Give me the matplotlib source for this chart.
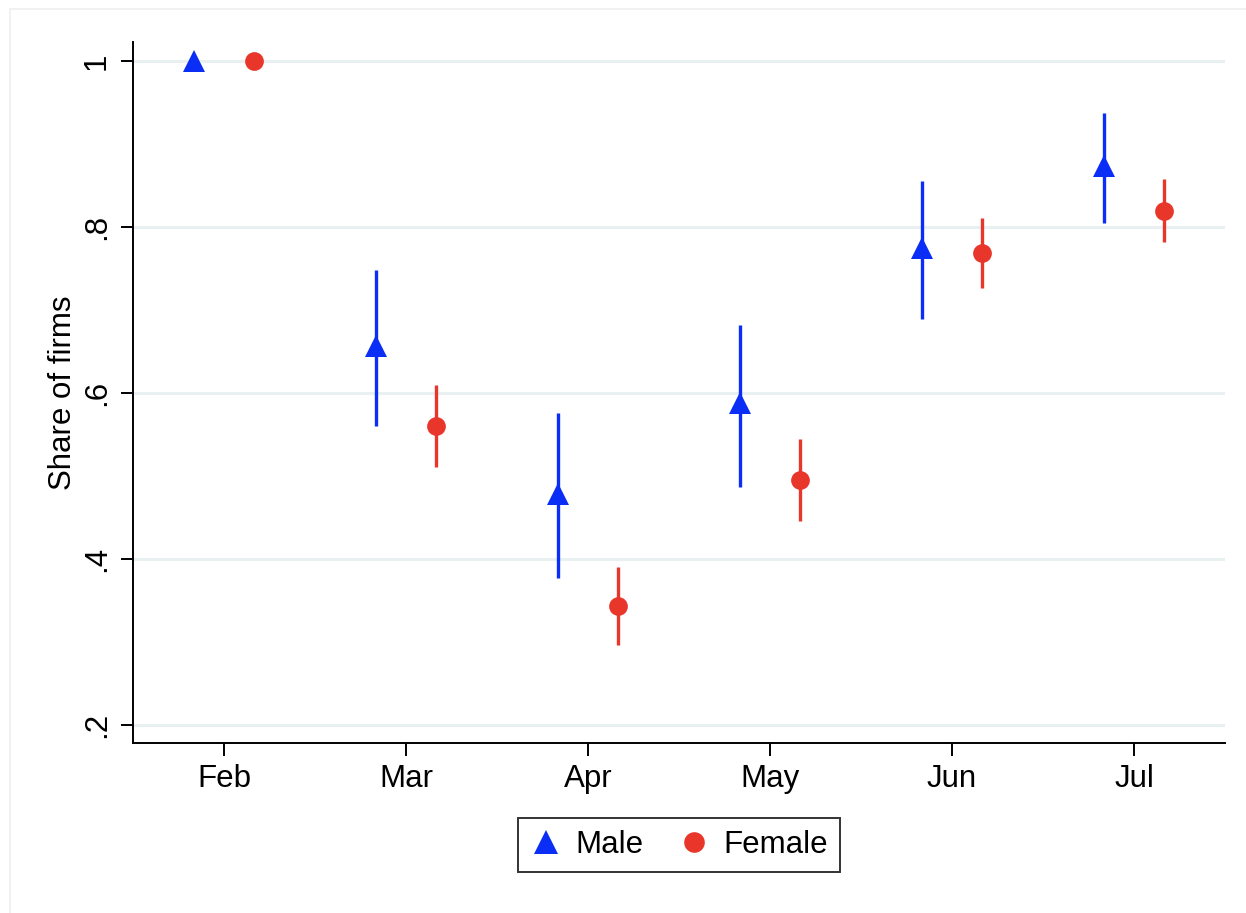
import numpy as np
import matplotlib.pyplot as plt
from matplotlib.patches import Rectangle

# monthly share of firms, by owner gender, with 95% CIs
months = ["Feb", "Mar", "Apr", "May", "Jun", "Jul"]

male_share = [1.000, 0.657, 0.478, 0.588, 0.775, 0.873]
male_lo = [1.000, 0.560, 0.377, 0.487, 0.689, 0.805]
male_hi = [1.000, 0.748, 0.576, 0.682, 0.855, 0.937]

female_share = [1.000, 0.560, 0.343, 0.495, 0.769, 0.819]
female_lo = [1.000, 0.511, 0.296, 0.446, 0.727, 0.782]
female_hi = [1.000, 0.610, 0.390, 0.545, 0.811, 0.858]

yticks = [0.2, 0.4, 0.6, 0.8, 1.0]
ytick_labels = [".2", ".4", ".6", ".8", "1"]

BLUE = "#0a2ef5"
RED = "#e8372a"
GRID = "#e8f0f2"
FS = 22.5

plt.rcParams["font.family"] = ["Liberation Sans", "DejaVu Sans"]

fig = plt.figure(figsize=(12.46, 9.13), dpi=100)
ax = fig.add_axes([0.1067, 0.1862, 0.8765, 0.7678])

x = np.arange(len(months))
off = 0.167


def draw_series(xpos, share, lo, hi, color, marker, ms, label):
    share = np.array(share)
    lo = np.array(lo)
    hi = np.array(hi)
    ax.vlines(xpos, lo, hi, color=color, linewidth=2.4, zorder=2)
    ax.plot(xpos, share, linestyle="none", marker=marker, markersize=ms,
            color=color, markeredgewidth=0, label=label, zorder=3)


draw_series(x - off, male_share, male_lo, male_hi, BLUE, "^", 16, "Male")
draw_series(x + off, female_share, female_lo, female_hi, RED, "o", 13.5, "Female")

ax.set_xlim(-0.5, 5.5)
ax.set_ylim(0.178, 1.023)
ax.set_xticks(x)
ax.set_xticklabels(months, fontsize=FS)
ax.set_yticks(yticks)
ax.set_yticklabels(ytick_labels, fontsize=FS, rotation=90, va="center")
ax.set_ylabel("Share of firms", fontsize=FS, labelpad=3)

ax.grid(axis="y", color=GRID, linewidth=2.2, zorder=0)
ax.set_axisbelow(True)
for s in ["top", "right"]:
    ax.spines[s].set_visible(False)
for s in ["left", "bottom"]:
    ax.spines[s].set_linewidth(1.4)
ax.tick_params(axis="both", length=9, width=1.4, pad=6)

leg = ax.legend(loc="center", bbox_to_anchor=(0.5, -0.146), ncol=2,
                fontsize=FS, frameon=True, fancybox=False, edgecolor="black",
                handletextpad=0.45, columnspacing=1.1, borderpad=0.38,
                handlelength=1.0, markerscale=1.1)
leg.get_frame().set_linewidth(1.4)

# faint outer graph-region border
fig.patches.append(Rectangle((10 / 1246, -0.02), 1.05, 1 - 9 / 913 + 0.02,
                             transform=fig.transFigure, fill=False,
                             edgecolor="#eceff0", linewidth=1.2))

fig.savefig("out.png", dpi=100)
